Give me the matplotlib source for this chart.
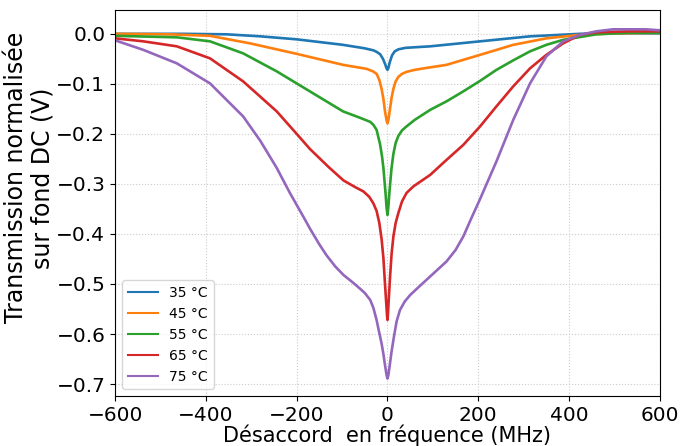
import matplotlib
matplotlib.use("Agg")
import matplotlib.pyplot as plt

# detuning (MHz) and normalised transmission (V)
x_35 = [-600, -450, -354, -280, -200, -98, -50, -31, -24, -16, -10, -5, -2, 0, 2, 5, 10, 16, 24, 40, 94, 204, 314, 424, 500, 600]
y_35 = [0.0, 0.0, -0.001, -0.005, -0.011, -0.022, -0.029, -0.033, -0.036, -0.041, -0.050, -0.061, -0.069, -0.072, -0.068, -0.057, -0.043, -0.035, -0.031, -0.028, -0.025, -0.015, -0.005, 0.0, 0.001, 0.001]

x_45 = [-600, -480, -391, -303, -200, -98, -46, -32, -24, -18, -13, -9, -5.5, -2, 0, 2, 5.5, 9, 13, 18, 24, 32, 42, 60, 80, 130, 204, 277, 350, 424, 500, 600]
y_45 = [0.0, -0.001, -0.004, -0.019, -0.040, -0.062, -0.070, -0.075, -0.080, -0.092, -0.110, -0.130, -0.155, -0.173, -0.179, -0.172, -0.150, -0.128, -0.110, -0.095, -0.086, -0.080, -0.076, -0.072, -0.069, -0.062, -0.042, -0.022, -0.009, -0.002, 0.001, 0.002]

x_55 = [-600, -464, -391, -318, -244, -171, -98, -60, -38, -31, -24, -16.5, -12, -9, -6, -4, -2, 0, 2, 4, 6, 9, 13, 18, 24, 32, 42, 60, 94, 130, 167, 204, 240, 277, 314, 350, 387, 460, 530, 600]
y_55 = [-0.004, -0.007, -0.015, -0.039, -0.075, -0.115, -0.155, -0.168, -0.176, -0.182, -0.192, -0.220, -0.245, -0.268, -0.300, -0.322, -0.348, -0.362, -0.345, -0.320, -0.298, -0.268, -0.240, -0.218, -0.204, -0.193, -0.185, -0.172, -0.152, -0.135, -0.115, -0.094, -0.072, -0.053, -0.035, -0.022, -0.012, -0.001, 0.002, 0.002]

x_65 = [-600, -538, -464, -391, -318, -244, -200, -171, -130, -97, -70, -53, -40, -31, -24, -18, -13, -9, -5.5, -3, -1, 0, 1, 3, 5.5, 9, 13, 18, 24, 32, 42, 57, 94, 130, 167, 204, 240, 277, 314, 350, 387, 424, 460, 530, 600]
y_65 = [-0.009, -0.015, -0.025, -0.049, -0.095, -0.155, -0.200, -0.230, -0.266, -0.293, -0.307, -0.315, -0.326, -0.339, -0.354, -0.378, -0.410, -0.448, -0.500, -0.535, -0.563, -0.572, -0.560, -0.528, -0.488, -0.440, -0.405, -0.378, -0.358, -0.335, -0.318, -0.305, -0.282, -0.252, -0.222, -0.185, -0.145, -0.105, -0.069, -0.042, -0.019, -0.002, 0.003, 0.005, 0.005]

x_75 = [-600, -538, -464, -391, -318, -280, -244, -215, -185, -171, -150, -134, -115, -97, -75, -61, -50, -38, -31, -24, -18, -13, -9, -5, -2, 0, 2, 5, 9, 13, 20, 27.5, 38, 50, 70, 94, 130, 150, 167, 185, 204, 240, 277, 314, 350, 387, 424, 460, 497, 570, 600]
y_75 = [-0.013, -0.032, -0.059, -0.099, -0.165, -0.214, -0.268, -0.318, -0.366, -0.389, -0.421, -0.443, -0.465, -0.482, -0.498, -0.509, -0.518, -0.532, -0.548, -0.572, -0.598, -0.619, -0.640, -0.665, -0.682, -0.689, -0.682, -0.662, -0.635, -0.612, -0.575, -0.552, -0.535, -0.522, -0.505, -0.485, -0.455, -0.432, -0.405, -0.368, -0.330, -0.255, -0.172, -0.099, -0.045, -0.015, -0.002, 0.005, 0.009, 0.009, 0.007]

series = [
    ("35 °C", x_35, y_35),
    ("45 °C", x_45, y_45),
    ("55 °C", x_55, y_55),
    ("65 °C", x_65, y_65),
    ("75 °C", x_75, y_75),
]

fig = plt.figure(figsize=(6.81, 4.46), dpi=100)
ax = fig.add_axes([0.169, 0.112, 0.8, 0.866])

for label, xs, ys in series:
    ax.plot(xs, ys, lw=1.9, label=label)

ax.set_xlim(-600, 600)
ax.set_ylim(-0.724, 0.048)
ax.set_yticks([0.0, -0.1, -0.2, -0.3, -0.4, -0.5, -0.6, -0.7])
ax.grid(True, ls=":", color="#cccccc", lw=0.8)
ax.tick_params(labelsize=14.5)
ax.set_xlabel("Désaccord  en fréquence (MHz)", fontsize=15, labelpad=0)
ax.set_ylabel("Transmission normalisée\nsur fond DC (V)", fontsize=17, linespacing=1.1)
ax.yaxis.set_label_coords(-0.112, 0.565)
leg = ax.legend(loc="lower left", fontsize=10, handlelength=2.2, labelspacing=0.5)
for line in leg.get_lines():
    line.set_linewidth(1.5)

fig.savefig("out.png", dpi=100)
